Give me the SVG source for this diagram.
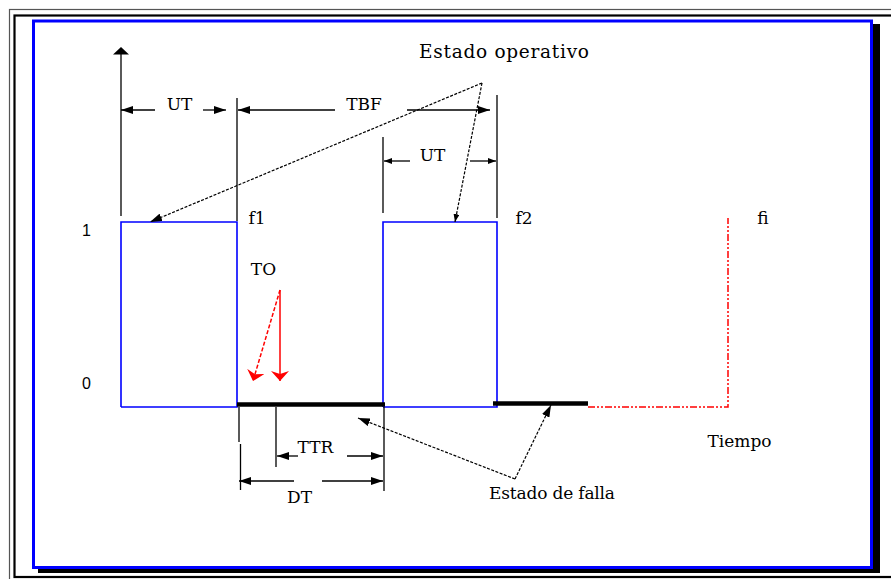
<svg xmlns="http://www.w3.org/2000/svg" width="891" height="579" viewBox="0 0 891 579">
<defs>
<style>
.ln{stroke:#000;stroke-width:1.3;fill:none}
.dsh{stroke:#000;stroke-width:1.2;fill:none;stroke-dasharray:3 1.5}
.bl{stroke:#0000ff;stroke-width:1.6;fill:none}
.fail{stroke:#000;stroke-width:4.5;fill:none}
.rd{stroke:#ff0000;stroke-width:1.5;fill:none}
.t{font-family:"DejaVu Serif","Liberation Serif",serif;font-size:17px;fill:#000;text-anchor:middle}
.big{font-size:18.5px}
.s{font-family:"Liberation Sans",Arial,sans-serif;font-size:16px;fill:#000}
</style>
<marker id="ah" viewBox="0 0 12 8" refX="12" refY="4" markerWidth="12" markerHeight="8" markerUnits="userSpaceOnUse" orient="auto"><path d="M0,0 L12,4 L0,8 z" fill="#000"/></marker>
<marker id="ahs" viewBox="0 0 8 6" refX="8" refY="3" markerWidth="8" markerHeight="6" markerUnits="userSpaceOnUse" orient="auto"><path d="M0,0 L8,3 L0,6 z" fill="#000"/></marker>
<marker id="ahr" viewBox="0 0 10 18" refX="10" refY="9" markerWidth="10" markerHeight="18" markerUnits="userSpaceOnUse" orient="auto"><path d="M0,0 L10,9 L0,18 L3,9 z" fill="#ff0000"/></marker>
</defs>

<g id="frame">
<rect x="9.5" y="9.5" width="890" height="580" fill="none" stroke="#555" stroke-width="1.2"/>
<rect x="14.5" y="15.5" width="890" height="561.5" fill="none" stroke="#000" stroke-width="2.2"/>
<rect x="38" y="24" width="842" height="549" fill="#000"/>
<rect x="33.5" y="21" width="838" height="546.5" fill="#fff" stroke="#0000ff" stroke-width="3"/>
</g>

<g id="axis">
<line class="ln" x1="121" y1="216" x2="121" y2="54"/>
<polygon points="121,47 129,54.5 113,54.5" fill="#000"/>
<text class="s" x="82" y="236">1</text>
<text class="s" x="82" y="389">0</text>
</g>

<g id="signal">
<polyline class="bl" points="121,407 121,222 237,222 237,407 121,407"/>
<polyline class="bl" points="383,407 383,222 497,222 497,407 383,407"/>
<line class="fail" x1="237" y1="404.5" x2="385" y2="404.5"/>
<line class="fail" x1="493" y1="403.5" x2="588" y2="403.5"/>
<polyline class="rd" points="588,407 728,407 728,218" stroke-dasharray="7 2 2 2 2 2"/>
</g>

<g id="ticks">
<line class="ln" x1="237" y1="98" x2="237" y2="221"/>
<line class="ln" x1="383" y1="137" x2="383" y2="213"/>
<line class="ln" x1="497" y1="95" x2="497" y2="218"/>
<line class="ln" x1="239" y1="407" x2="239" y2="442"/>
<line class="ln" x1="240.5" y1="444" x2="240.5" y2="490"/>
<line class="ln" x1="276" y1="407" x2="276" y2="467"/>
<line class="ln" x1="384" y1="407" x2="384" y2="491"/>
</g>

<g id="connectors">
<line class="ln" x1="155" y1="110" x2="121" y2="110" marker-end="url(#ah)"/>
<line class="ln" x1="203" y1="110" x2="226" y2="110" marker-end="url(#ah)"/>
<line class="ln" x1="335" y1="110" x2="238" y2="110" marker-end="url(#ah)"/>
<line class="ln" x1="407" y1="110" x2="490" y2="110" marker-end="url(#ah)"/>
<line class="ln" x1="410" y1="161" x2="384" y2="161" marker-end="url(#ahs)"/>
<line class="ln" x1="470" y1="161" x2="496" y2="161" marker-end="url(#ahs)"/>
<line class="ln" x1="298" y1="456" x2="277" y2="456" marker-end="url(#ah)"/>
<line class="ln" x1="347" y1="456" x2="383" y2="456" marker-end="url(#ah)"/>
<line class="ln" x1="294" y1="481" x2="239" y2="481" marker-end="url(#ah)"/>
<line class="ln" x1="322" y1="481" x2="383" y2="481" marker-end="url(#ah)"/>
<line class="dsh" x1="482" y1="83" x2="150" y2="222" marker-end="url(#ah)"/>
<line class="dsh" x1="482" y1="83" x2="455" y2="222" marker-end="url(#ahs)"/>
<line class="dsh" x1="515" y1="479" x2="358" y2="418" marker-end="url(#ah)"/>
<line class="dsh" x1="515" y1="479" x2="551" y2="405" marker-end="url(#ah)"/>
<line class="rd" x1="280" y1="290" x2="280" y2="381" marker-end="url(#ahr)"/>
<line class="rd" x1="280" y1="290" x2="253" y2="381" stroke-dasharray="4 2" marker-end="url(#ahr)"/>
</g>

<g id="labels">
<text class="t big" x="504" y="58" textLength="170">Estado operativo</text>
<text class="t" x="179.5" y="110">UT</text>
<text class="t" x="364" y="110">TBF</text>
<text class="t" x="432.5" y="161">UT</text>
<text class="t" x="257" y="224">f1</text>
<text class="t" x="524" y="224">f2</text>
<text class="t" x="763" y="224">fi</text>
<text class="t" x="263.5" y="275">TO</text>
<text class="t" x="315.5" y="453">TTR</text>
<text class="t" x="299.5" y="503">DT</text>
<text class="t" x="552" y="499" textLength="126">Estado de falla</text>
<text class="t" x="739.5" y="447">Tiempo</text>
</g>
</svg>
